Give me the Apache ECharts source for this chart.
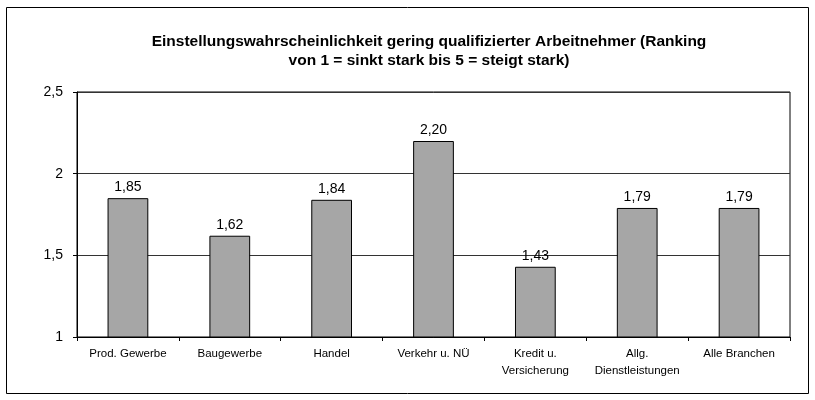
<!DOCTYPE html>
<html><head><meta charset="utf-8">
<script src="https://cdn.jsdelivr.net/npm/echarts@6/dist/echarts.min.js"></script>
<style>html,body{margin:0;padding:0;background:#fff}#c{width:815px;height:400px}</style>
</head><body><div id="c"></div>
<script>
const categories = ['Prod. Gewerbe','Baugewerbe','Handel','Verkehr u. NÜ','Kredit u.\nVersicherung','Allg.\nDienstleistungen','Alle Branchen'];
const values = [1.85, 1.62, 1.84, 2.20, 1.43, 1.79, 1.79];
const titleText = 'Einstellungswahrscheinlichkeit gering qualifizierter Arbeitnehmer (Ranking\nvon 1 = sinkt stark bis 5 = steigt stark)';
const chart = echarts.init(document.getElementById('c'), null, {renderer:'canvas'});
chart.setOption({
  animation:false,
  backgroundColor:'#fff',
  title:{text:titleText,left:424,textAlign:'center',top:27,textStyle:{fontFamily:'Liberation Sans',fontWeight:'bold',fontSize:15.5,color:'#000',lineHeight:19}},
  graphic:[{type:'rect',shape:{x:6.5,y:7.5,width:802,height:386},style:{fill:null,stroke:'#000',lineWidth:1},silent:true}],
  grid:{left:77,right:25,top:92,bottom:63,show:true,borderColor:'#000',borderWidth:1,backgroundColor:'transparent'},
  xAxis:{type:'category',data:categories,
    axisLine:{lineStyle:{color:'#000',width:1}},
    axisTick:{show:true,alignWithLabel:false,length:4,lineStyle:{color:'#000'}},
    axisLabel:{color:'#000',fontFamily:'Liberation Sans',fontSize:11.5,margin:8,interval:0,lineHeight:17}},
  yAxis:{type:'value',min:1,max:2.5,interval:0.5,
    axisLine:{show:true,lineStyle:{color:'#000'}},
    axisTick:{show:true,length:4,lineStyle:{color:'#000'}},
    axisLabel:{color:'#000',fontFamily:'Liberation Sans',fontSize:14,margin:14,formatter:v=>String(v).replace('.',',')},
    splitLine:{show:true,lineStyle:{color:'#333',width:1}}},
  series:[{type:'bar',data:values,barWidth:'40%',
    itemStyle:{color:'#a6a6a6',borderColor:'#000',borderWidth:1},
    label:{show:true,position:'top',distance:4,color:'#000',fontFamily:'Liberation Sans',fontSize:14,formatter:p=>p.value.toFixed(2).replace('.',',')}}]
});
</script></body></html>
